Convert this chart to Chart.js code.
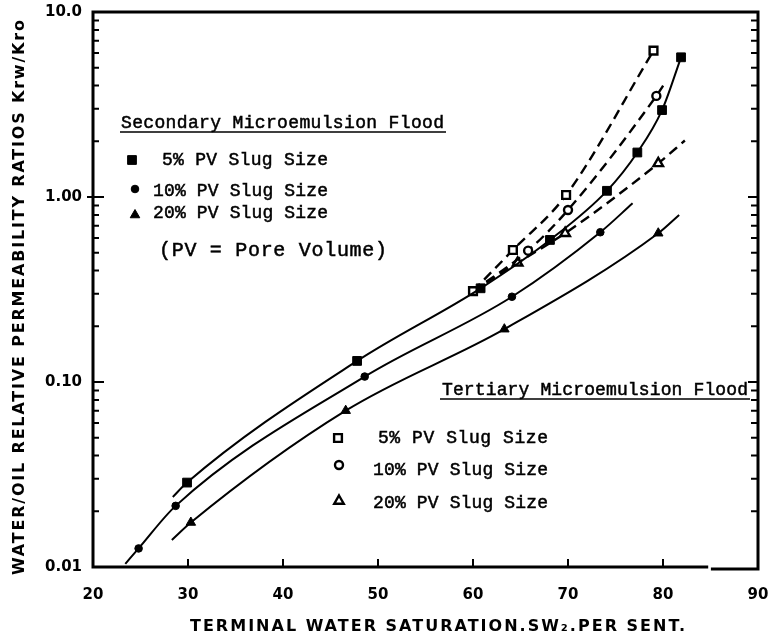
<!DOCTYPE html>
<html>
<head>
<meta charset="utf-8">
<script src="https://cdn.jsdelivr.net/npm/chart.js@4.4.1/dist/chart.umd.min.js"></script>
<style>
  html, body { margin: 0; padding: 0; background: #fff; }
</style>
</head>
<body>
<canvas id="chart" width="778" height="640"></canvas>
<script>
// Axis ticks
const xTickValues = [20, 30, 40, 50, 60, 70, 80, 90];
const yTickValues = [0.01, 0.1, 1, 10];
const yTickLabels = ['0.01', '0.10', '1.00', '10.0'];

// Secondary microemulsion flood (solid curves). marked=false -> line end only, no symbol
const sec5X = [28.4, 29.9, 47.8, 60.8, 68.1, 74.1, 77.3, 79.9, 81.9];
const sec5Y = [0.0239, 0.0286, 0.130, 0.321, 0.586, 1.08, 1.74, 2.95, 5.69];
const sec5Marked = [false, true, true, true, true, true, true, true, true];

const sec10X = [23.4, 24.8, 28.7, 48.6, 64.1, 73.4, 76.8];
const sec10Y = [0.0104, 0.0126, 0.0214, 0.107, 0.289, 0.645, 0.925];
const sec10Marked = [false, true, true, true, true, true, false];

const sec20X = [28.3, 30.3, 46.6, 63.3, 79.5, 81.7];
const sec20Y = [0.0140, 0.0174, 0.070, 0.193, 0.637, 0.80];
const sec20Marked = [false, true, true, true, true, false];

// Tertiary microemulsion flood (dashed curves)
const ter5X = [60.0, 64.2, 69.8, 79.0];
const ter5Y = [0.310, 0.517, 1.025, 6.18];
const ter5Marked = [true, true, true, true];

const ter10X = [60.0, 65.8, 70.0, 79.3, 80.2];
const ter10Y = [0.310, 0.513, 0.851, 3.52, 4.13];
const ter10Marked = [false, true, true, true, false];

const ter20X = [60.0, 64.7, 69.7, 79.5, 82.3];
const ter20Y = [0.310, 0.441, 0.637, 1.52, 2.02];
const ter20Marked = [false, true, true, true, false];

const monoFont = '"Liberation Mono", "Courier New", monospace';
const sansBold = 'bold 16px "DejaVu Sans", sans-serif';

function makeSeries(xs, ys, marked, style, radius, open, dashed) {
  return {
    data: xs.map((x, i) => ({ x: x, y: ys[i] })),
    borderColor: '#000',
    borderWidth: dashed ? 2.4 : 2,
    borderDash: dashed ? [10, 6] : [],
    cubicInterpolationMode: 'monotone',
    fill: false,
    pointStyle: style,
    pointRadius: marked.map(m => (m ? radius : 0)),
    pointBackgroundColor: open ? '#fff' : '#000',
    pointBorderColor: '#000',
    pointBorderWidth: open ? 2.4 : 1
  };
}

// text squeezed/spaced to the width it takes in the scan
function drawFit(ctx, text, x, y, width, font, heavy) {
  ctx.save();
  ctx.font = font;
  ctx.textAlign = 'left';
  ctx.textBaseline = 'alphabetic';
  ctx.fillStyle = '#000';
  ctx.strokeStyle = '#000';
  ctx.lineWidth = heavy || 0;
  const w = ctx.measureText(text).width;
  const n = Array.from(text).length;
  if (w <= width && 'letterSpacing' in ctx && n > 1) {
    ctx.letterSpacing = ((width - w) / (n - 1)) + 'px';
  } else {
    ctx.translate(x, y);
    ctx.scale(width / w, 1);
    x = 0; y = 0;
  }
  ctx.fillText(text, x, y);
  if (heavy) ctx.strokeText(text, x, y);
  ctx.restore();
}

function marker(ctx, style, radius, open, x, y) {
  ctx.save();
  ctx.fillStyle = open ? '#fff' : '#000';
  ctx.strokeStyle = '#000';
  ctx.lineWidth = open ? 2.4 : 1;
  Chart.helpers.drawPoint(ctx, { pointStyle: style, radius: radius, rotation: 0, borderWidth: ctx.lineWidth }, x, y);
  ctx.restore();
}

function noScalePadding(s) {
  s.paddingLeft = 0; s.paddingRight = 0; s.paddingTop = 0; s.paddingBottom = 0;
}

const decor = {
  id: 'decor',
  afterDraw(chart) {
    const ctx = chart.ctx;
    const a = chart.chartArea;
    const xs = chart.scales.x;
    const ys = chart.scales.y;

    ctx.save();
    ctx.strokeStyle = '#000';
    ctx.lineCap = 'square';

    // frame
    ctx.lineWidth = 3;
    const gapL = xs.getPixelForValue(84.6), gapR = xs.getPixelForValue(85.2);
    ctx.beginPath();
    ctx.moveTo(a.left, a.top); ctx.lineTo(a.right, a.top); ctx.lineTo(a.right, a.bottom + 2);
    ctx.lineTo(gapR, a.bottom + 2);
    ctx.moveTo(gapL, a.bottom); ctx.lineTo(a.left, a.bottom); ctx.lineTo(a.left, a.top);
    ctx.stroke();

    // log minor / major ticks, inside on both vertical axes
    ctx.lineWidth = 2;
    ctx.lineCap = 'butt';
    ctx.beginPath();
    [0.01, 0.1, 1].forEach(d => {
      for (let k = 1; k <= 9; k++) {
        const v = k * d;
        if (v <= 0.01) continue;
        const py = ys.getPixelForValue(v);
        const major = k === 1;
        ctx.moveTo(a.left, py); ctx.lineTo(a.left + (major ? 11 : 6), py);
        ctx.moveTo(a.right, py); ctx.lineTo(a.right - (major ? 10 : 7), py);
      }
    });
    ctx.moveTo(a.left - 6, ys.getPixelForValue(1)); ctx.lineTo(a.left, ys.getPixelForValue(1));
    // x ticks pointing up
    xTickValues.slice(1, -1).forEach(v => {
      const px = xs.getPixelForValue(v);
      ctx.moveTo(px, a.bottom); ctx.lineTo(px, a.bottom - 8);
    });
    ctx.stroke();
    ctx.restore();

    // secondary legend
    const f18 = '18px ' + monoFont;
    drawFit(ctx, 'Secondary Microemulsion Flood', 121, 128, 323, f18, 0.5);
    drawFit(ctx, '5% PV Slug Size', 162, 165, 166, f18, 0.5);
    drawFit(ctx, '10% PV Slug Size', 153, 196, 175, f18, 0.5);
    drawFit(ctx, '20% PV Slug Size', 153, 218, 175, f18, 0.5);
    drawFit(ctx, '(PV = Pore Volume)', 159, 256, 228, '20px ' + monoFont, 0.5);
    marker(ctx, 'rect', 6.2, false, 132, 160);
    marker(ctx, 'circle', 3.8, false, 135, 189);
    marker(ctx, 'triangle', 5.5, false, 135, 215);

    // tertiary legend
    drawFit(ctx, 'Tertiary Microemulsion Flood', 442, 395, 306, f18, 0.5);
    drawFit(ctx, '5% PV Slug Size', 378, 443, 170, f18, 0.5);
    drawFit(ctx, '10% PV Slug Size', 373, 475, 175, f18, 0.5);
    drawFit(ctx, '20% PV Slug Size', 373, 508, 175, f18, 0.5);
    marker(ctx, 'rect', 5.5, true, 338, 438);
    marker(ctx, 'circle', 4, true, 339, 465);
    marker(ctx, 'triangle', 5.5, true, 339, 501);

    ctx.save();
    ctx.strokeStyle = '#000';
    ctx.lineWidth = 1.5;
    ctx.beginPath();
    ctx.moveTo(120, 132); ctx.lineTo(446, 132);
    ctx.moveTo(440, 399); ctx.lineTo(750, 399);
    ctx.stroke();
    ctx.restore();

    // axis titles
    drawFit(ctx, 'TERMINAL WATER SATURATION.SW\u2082.PER SENT.', 190, 631, 495, sansBold);
    ctx.save();
    ctx.translate(24, 575);
    ctx.rotate(-Math.PI / 2);
    drawFit(ctx, 'WATER/OIL RELATIVE PERMEABILITY RATIOS Krw/Kro', 0, 0, 555, sansBold);
    ctx.restore();
  }
};

new Chart(document.getElementById('chart').getContext('2d'), {
  type: 'line',
  data: {
    datasets: [
      makeSeries(sec5X, sec5Y, sec5Marked, 'rect', 6.2, false, false),
      makeSeries(sec10X, sec10Y, sec10Marked, 'circle', 3.8, false, false),
      makeSeries(sec20X, sec20Y, sec20Marked, 'triangle', 5.5, false, false),
      makeSeries(ter5X, ter5Y, ter5Marked, 'rect', 5.5, true, true),
      makeSeries(ter10X, ter10Y, ter10Marked, 'circle', 4, true, true),
      makeSeries(ter20X, ter20Y, ter20Marked, 'triangle', 5.5, true, true)
    ]
  },
  options: {
    responsive: false,
    animation: false,
    layout: { padding: { top: 12, right: 20, left: 0, bottom: 0 } },
    plugins: { legend: { display: false }, tooltip: { enabled: false } },
    scales: {
      x: {
        type: 'linear',
        min: 20,
        max: 90,
        afterBuildTicks: s => { s.ticks = xTickValues.map(v => ({ value: v })); },
        afterFit: s => { s.height = 73; noScalePadding(s); },
        grid: { display: false, drawTicks: false },
        border: { display: false },
        ticks: {
          padding: 19,
          color: '#000',
          autoSkip: false,
          maxRotation: 0,
          font: { family: '"DejaVu Sans", sans-serif', size: 15, weight: 'bold' },
          callback: v => String(v)
        }
      },
      y: {
        type: 'logarithmic',
        min: 0.01,
        max: 10,
        afterBuildTicks: s => { s.ticks = yTickValues.map(v => ({ value: v })); },
        afterFit: s => { s.width = 93; noScalePadding(s); },
        grid: { display: false, drawTicks: false },
        border: { display: false },
        ticks: {
          padding: 11,
          color: '#000',
          autoSkip: false,
          font: { family: '"DejaVu Sans", sans-serif', size: 15, weight: 'bold' },
          callback: (v, i) => yTickLabels[i]
        }
      }
    }
  },
  plugins: [decor]
});
</script>
</body>
</html>
